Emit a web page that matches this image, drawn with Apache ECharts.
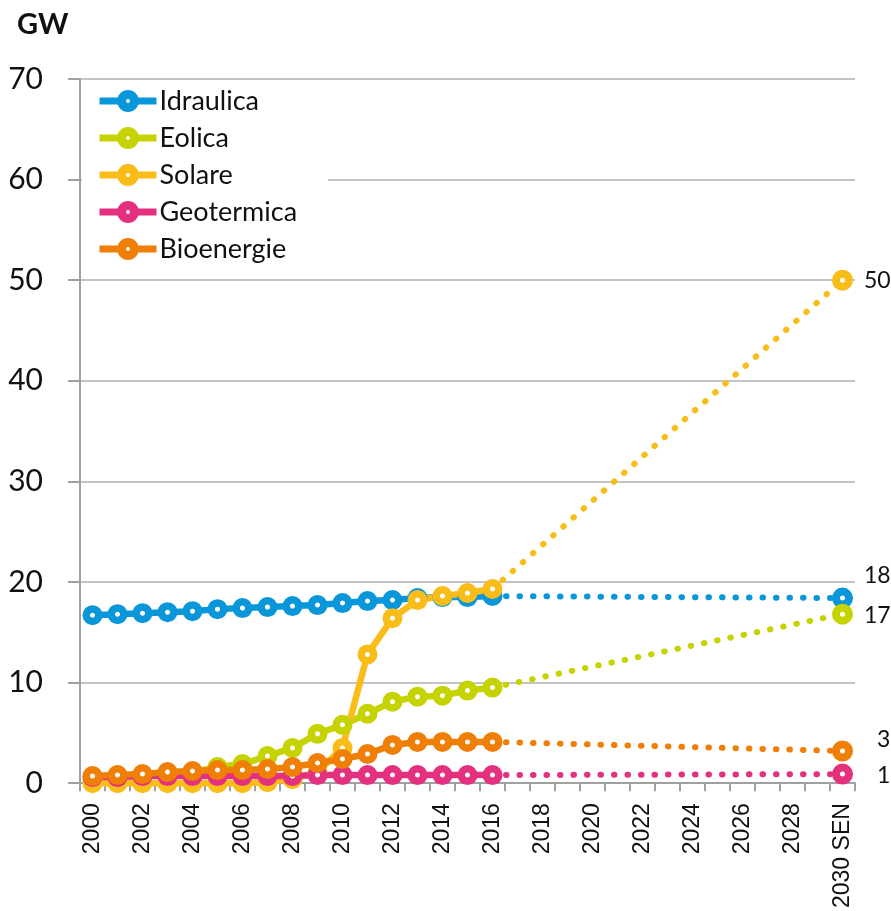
<!DOCTYPE html>
<html>
<head>
<meta charset="utf-8">
<script src="https://cdn.jsdelivr.net/npm/echarts@6/dist/echarts.min.js"></script>
<style>
html,body{margin:0;padding:0;background:#fff;}
#chart{width:891px;height:911px;}
</style>
</head>
<body>
<div id="chart"></div>
<script>
const categories = ['2000','2001','2002','2003','2004','2005','2006','2007','2008','2009',
  '2010','2011','2012','2013','2014','2015','2016','2017','2018','2019',
  '2020','2021','2022','2023','2024','2025','2026','2027','2028','2029','2030 SEN'];
const seriesNames = ['Idraulica','Eolica','Solare','Geotermica','Bioenergie'];
const colors = ['#0a97d9','#c5d300','#f9bd19','#e4307f','#ef7f06'];
// historical values 2000-2016 (GW)
const idraulica  = [16.7,16.8,16.9,17.0,17.1,17.3,17.4,17.5,17.6,17.7,17.9,18.1,18.2,18.4,18.5,18.5,18.6];
const eolica     = [0.4,0.7,0.8,0.9,1.1,1.6,1.9,2.7,3.5,4.9,5.8,6.9,8.1,8.6,8.7,9.2,9.5];
const solare     = [0.0,0.0,0.0,0.0,0.0,0.0,0.0,0.1,0.4,1.1,3.5,12.8,16.4,18.2,18.6,18.9,19.3];
const geotermica = [0.6,0.6,0.7,0.7,0.7,0.7,0.7,0.7,0.7,0.8,0.8,0.8,0.8,0.8,0.8,0.8,0.8];
const bioenergie = [0.7,0.8,0.9,1.1,1.2,1.3,1.3,1.4,1.6,2.0,2.4,2.9,3.8,4.1,4.1,4.1,4.1];
// SEN 2030 targets
const target2030 = [18.4, 16.8, 50, 0.9, 3.2];
const yTicks = [0,10,20,30,40,50,60,70];

const history = [idraulica, eolica, solare, geotermica, bioenergie];
const labelOffsets = [[0,-22],[0,1],[0,0],[13,1],[13,-11]];

const series = [];
// dotted projections first (drawn underneath)
history.forEach((h, i) => {
  const data = categories.map(() => null);
  const last = h.length - 1;
  data[last] = { value: h[last], symbol: 'none' };
  data[categories.length - 1] = {
    value: target2030[i],
    label: {
      show: true, position: 'right', distance: 11,
      offset: labelOffsets[i],
      formatter: p => String(Math.round(p.value)),
      fontFamily: 'Lato', fontSize: 23, color: '#111'
    }
  };
  series.push({
    name: seriesNames[i] + ' SEN',
    type: 'line',
    data: data,
    connectNulls: true,
    clip: false,
    symbol: 'circle',
    symbolSize: 13,
    z: 2,
    lineStyle: { color: colors[i], width: 6, type: [0.5, 13], cap: 'round' },
    itemStyle: { color: '#fff', borderColor: colors[i], borderWidth: 8 },
    emphasis: { disabled: true },
    silent: true
  });
});
history.forEach((h, i) => {
  series.push({
    name: seriesNames[i],
    type: 'line',
    data: h,
    clip: false,
    symbol: 'circle',
    symbolSize: 12.5,
    showAllSymbol: true,
    z: 3,
    lineStyle: { color: colors[i], width: 6.5 },
    itemStyle: { color: '#fff', borderColor: colors[i], borderWidth: 7.5 },
    emphasis: { disabled: true }
  });
});

const chart = echarts.init(document.getElementById('chart'), null, { renderer: 'canvas' });
chart.setOption({
  animation: false,
  backgroundColor: '#fff',
  color: colors,
  title: {
    text: 'GW', left: 12, top: 5,
    textStyle: { fontFamily: 'Lato', fontWeight: 'bold', fontSize: 29, color: '#111' }
  },
  graphic: [{
    type: 'rect', z: 1,
    shape: { x: 82, y: 84, width: 246, height: 184 },
    style: { fill: '#fff' }
  }],
  legend: {
    data: seriesNames,
    orient: 'vertical',
    left: 80, top: 86,
    padding: [0, 0, 0, 16],
    itemWidth: 57, itemHeight: 16,
    itemGap: 7,
    z: 5,
    itemStyle: { borderWidth: 9 },
    lineStyle: { width: 7 },
    textStyle: { fontFamily: 'Lato', fontSize: 27, color: '#111', lineHeight: 30, padding: [0,0,0,-2] }
  },
  grid: { left: 80, right: 36, top: 79, bottom: 126, containLabel: false },
  xAxis: {
    type: 'category',
    data: categories,
    boundaryGap: true,
    axisLine: { lineStyle: { color: '#a0a0a0', width: 2 } },
    axisTick: { show: true, interval: 0, length: 8, lineStyle: { color: '#a0a0a0', width: 2 } },
    axisLabel: {
      interval: 1, rotate: 90, margin: 20,
      fontFamily: 'Liberation Sans', fontSize: 23, color: '#111'
    },
    splitLine: { show: false }
  },
  yAxis: {
    type: 'value',
    min: yTicks[0], max: yTicks[yTicks.length - 1], interval: 10,
    axisLine: { show: true, lineStyle: { color: '#a0a0a0', width: 2 } },
    axisTick: { show: true, length: 12, lineStyle: { color: '#a0a0a0', width: 2 } },
    axisLabel: { margin: 37, fontFamily: 'Lato', fontSize: 30, color: '#111' },
    splitLine: { lineStyle: { color: '#c4c4c4', width: 2 } }
  },
  series: series
});
</script>
</body>
</html>
